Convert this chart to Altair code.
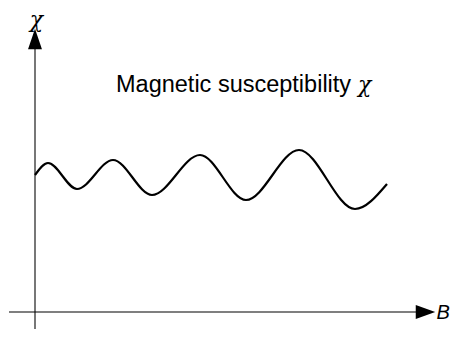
import altair as alt
import pandas as pd

# Oscillating susceptibility curve (B, chi)
curve_B = [0.0, 0.52, 1.68, 3.12, 4.68, 6.6, 8.44, 10.56, 12.8, 14.08]
curve_chi = [5.48, 5.96, 4.92, 6.08, 4.68, 6.28, 4.48, 6.48, 4.12, 5.12]

# Schematic axes
vaxis_x = [0.0, 0.0]
vaxis_y = [10.52, -0.68]
haxis_x = [-1.04, 15.24]
haxis_y = [0.0, 0.0]
arrow_up = (0.0, 10.92)
arrow_right = (15.62, 0.0)

title_text = "Magnetic susceptibility"
title_pos = (3.24, 8.8)
title_chi_pos = (12.92, 8.8)
ylabel = "χ"
ylabel_pos = (0.06, 11.4)
xlabel = "B"
xlabel_pos = (16.06, -0.04)

XDOM = [-1.08, 16.6]
YDOM = [-0.68, 12.16]

xs = alt.Scale(domain=XDOM, nice=False, zero=False)
ys = alt.Scale(domain=YDOM, nice=False, zero=False)

SERIF = "DejaVu Serif"
SANS = "Liberation Sans"


def X(field="x"):
    return alt.X(f"{field}:Q", scale=xs, axis=None)


def Y(field="y"):
    return alt.Y(f"{field}:Q", scale=ys, axis=None)


curve_df = pd.DataFrame({"x": curve_B, "y": curve_chi})
curve = alt.Chart(curve_df).mark_line(
    color="black", strokeWidth=2.2, interpolate="monotone"
).encode(x=X(), y=Y())

vax = alt.Chart(pd.DataFrame({"x": vaxis_x, "y": vaxis_y})).mark_line(
    color="#555555", strokeWidth=1.6
).encode(x=X(), y=Y())

hax = alt.Chart(pd.DataFrame({"x": haxis_x, "y": haxis_y})).mark_line(
    color="black", strokeWidth=1.2
).encode(x=X(), y=Y())

up = alt.Chart(pd.DataFrame({"x": [arrow_up[0]], "y": [arrow_up[1]]})).mark_point(
    shape="M0,-1 L0.68,1 L-0.68,1 Z", size=420, filled=True, color="black", opacity=1,
    strokeWidth=0
).encode(x=X(), y=Y())

right = alt.Chart(pd.DataFrame({"x": [arrow_right[0]], "y": [arrow_right[1]]})).mark_point(
    shape="M1,0 L-1,0.72 L-1,-0.72 Z", size=380, filled=True, color="black", opacity=1,
    strokeWidth=0
).encode(x=X(), y=Y())

title = alt.Chart(pd.DataFrame({"x": [title_pos[0]], "y": [title_pos[1]], "t": [title_text]})).mark_text(
    font=SANS, fontSize=23.5, align="left", baseline="alphabetic", color="black"
).encode(x=X(), y=Y(), text="t:N")

title_chi = alt.Chart(pd.DataFrame({"x": [title_chi_pos[0]], "y": [title_chi_pos[1]], "t": ["χ"]})).mark_text(
    font=SERIF, fontStyle="italic", fontSize=22, align="left", baseline="alphabetic", color="black"
).encode(x=X(), y=Y(), text="t:N")

ylab = alt.Chart(pd.DataFrame({"x": [ylabel_pos[0]], "y": [ylabel_pos[1]], "t": [ylabel]})).mark_text(
    font=SERIF, fontStyle="italic", fontSize=22, align="center", baseline="alphabetic", color="black"
).encode(x=X(), y=Y(), text="t:N")

xlab = alt.Chart(pd.DataFrame({"x": [xlabel_pos[0]], "y": [xlabel_pos[1]], "t": [xlabel]})).mark_text(
    font=SANS, fontStyle="italic", fontSize=20, align="left", baseline="middle", color="black"
).encode(x=X(), y=Y(), text="t:N")

chart = alt.layer(vax, hax, up, right, curve, title, title_chi, ylab, xlab).properties(
    width=442, height=321, padding=0, autosize="none"
).configure_view(stroke=None)

chart.save("out.html", embed_options={"renderer": "svg", "actions": False})
